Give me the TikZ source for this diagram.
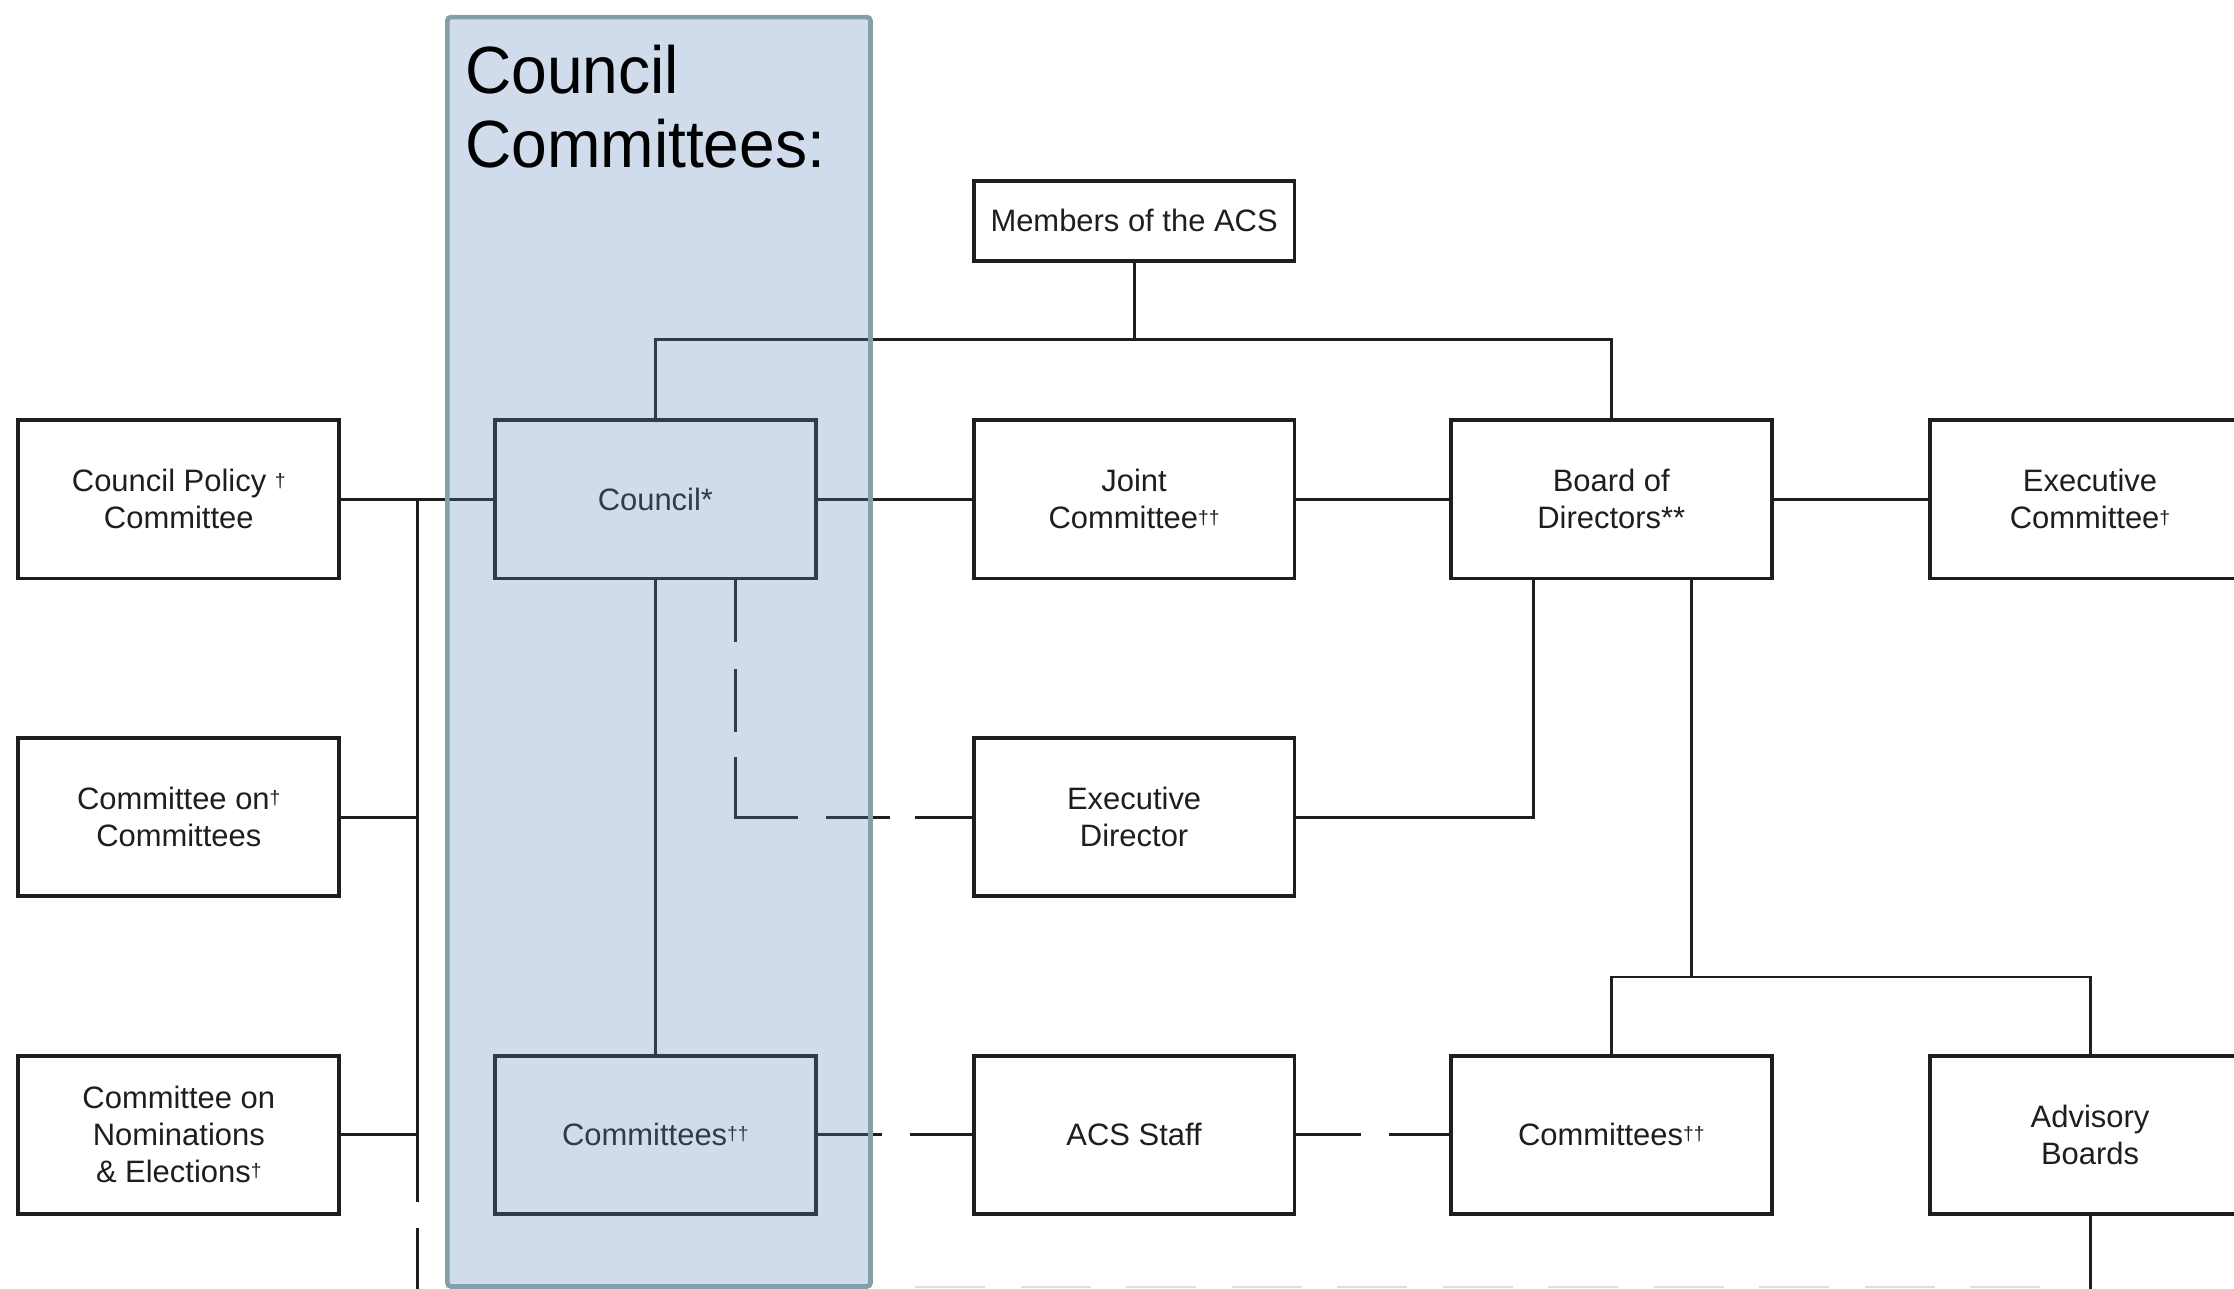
\documentclass[tikz,border=0pt]{standalone}
\usepackage{fontspec}
\setmainfont{Liberation Sans}
\newcommand\dg{\raisebox{0.3ex}{\fontsize{5.5}{5}\selectfont †}}
\definecolor{ink}{HTML}{1E1E1E}
\definecolor{ccblue}{RGB}{95,136,190}
\definecolor{ccborder}{RGB}{130,160,165}
\tikzset{
  box/.style={draw=ink, line width=1.1pt, fill=white, minimum width=3.206cm, minimum height=1.58cm,
    inner sep=0pt, align=center, text=ink, font=\fontsize{8.8}{10.5}\selectfont},
  link/.style={draw=ink, line width=0.85pt},
  dashL/.style={link, dash pattern=on 17.6pt off 7.7pt on 17.9pt off 7.1pt on 35pt off 8pt on 18.2pt off 7.1pt on 30pt},
  dashH/.style={link, dash pattern=on 18.3pt off 8pt on 30pt},
  title/.style={anchor=base west, inner sep=0pt, text=black, font=\fontsize{19}{21}\selectfont}
}
\begin{document}
\begin{tikzpicture}[x=0.01cm, y=-0.01cm]
\useasboundingbox (0,0) rectangle (2234,1289);
\clip (0,0) rectangle (2234,1289);
\fill[white] (0,0) rectangle (2234,1289);

% boxes
\node[box] (cpc) at (178.8,499.4) {Council Policy \dg\\Committee};
\node[box] (coc) at (178.8,817.1) {Committee on\dg\\Committees};
\node[box] (cne) at (178.8,1134.8) {Committee on\\Nominations\\\& Elections\dg};
\node[box] (council) at (655.4,499.4) {Council*};
\node[box] (ccom) at (655.4,1134.8) {Committees\dg\dg};
\node[box, minimum height=0.798cm] (mem) at (1134.1,220.8) {Members of the ACS};
\node[box] (joint) at (1134.1,499.4) {Joint\\Committee\dg\dg};
\node[box] (ed) at (1134.1,817.1) {Executive\\Director};
\node[box] (staff) at (1134.1,1134.8) {ACS Staff};
\node[box] (bod) at (1611.3,499.4) {Board of\\Directors**};
\node[box] (bcom) at (1611.3,1134.8) {Committees\dg\dg};
\node[box] (exc) at (2090,499.4) {Executive\\Committee\dg};
\node[box] (adv) at (2090,1134.8) {Advisory\\Boards};

% helper coordinates
\coordinate (bus) at (0,339.1);
\coordinate (lb) at (417.4,0);
\coordinate (cd) at (735,0);
\coordinate (b1) at (1533,0);
\coordinate (b2) at (1691,0);
\coordinate (bb) at (0,977);
\coordinate (gapA) at (0,1202);
\coordinate (gapB) at (0,1228);
\coordinate (bot) at (0,1289);

% connectors
\draw[link] (mem.south) -- (mem.south |- bus);
\draw[link] (council.north) -- (council.north |- bus) -- (bod.north |- bus) -- (bod.north);
\draw[link] (cpc.east) -- (council.west);
\draw[link] (cpc.east -| lb) -- (lb |- gapA);
\draw[link] (lb |- gapB) -- (lb |- bot);
\draw[link] (coc.east) -- (coc.east -| lb);
\draw[link] (cne.east) -- (cne.east -| lb);
\draw[link] (council.east) -- (joint.west);
\draw[link] (joint.east) -- (bod.west);
\draw[link] (bod.east) -- (exc.west);
\draw[link] (council.south) -- (ccom.north);
\draw[dashL] (council.south -| cd) |- (ed.west);
\draw[link] (bod.south -| b1) |- (ed.east);
\draw[link] (bod.south -| b2) -- (b2 |- bb);
\draw[link] (bcom.north) -- (bcom.north |- bb) -- (adv.north |- bb) -- (adv.north);
\draw[link] (adv.south) -- (adv.south |- bot);
\draw[dashH] (ccom.east) -- (staff.west);
\draw[dashH] (staff.east) -- (bcom.west);
\draw[gray!25, line width=0.8pt, dash pattern=on 20pt off 10pt] (915,1287) -- (2050,1287);

% council committees overlay
\fill[fill=ccblue, fill opacity=0.29, rounded corners=1pt] (447.4,17.1) rectangle (870.5,1286.5);
\draw[draw=ccborder, line width=1.3pt, rounded corners=1pt] (447.4,17.1) rectangle (870.5,1286.5);
\node[title] (t1) at (464.5,94) {\scalebox{0.96}[1]{Council}};
\node[title] (t2) at (464.5,168) {\scalebox{0.96}[1]{Committees:}};
\end{tikzpicture}
\end{document}
